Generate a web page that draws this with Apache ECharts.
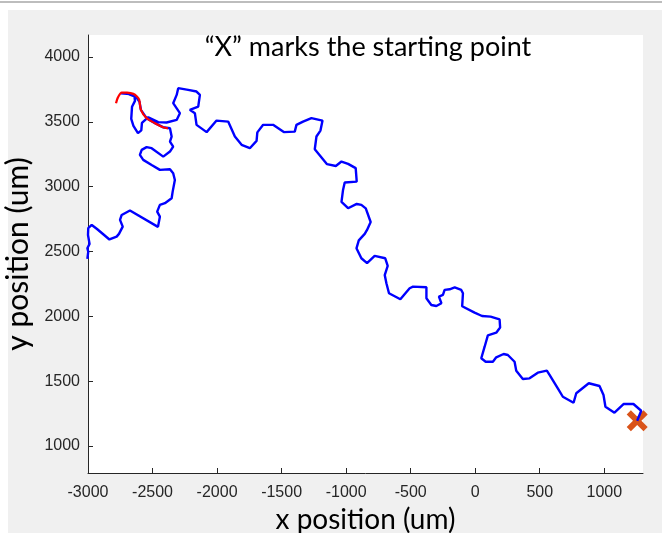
<!DOCTYPE html>
<html>
<head>
<meta charset="utf-8">
<script src="https://cdn.jsdelivr.net/npm/echarts@6/dist/echarts.min.js"></script>
<style>
  html, body { margin: 0; padding: 0; background: #ffffff; }
  #chart { width: 662px; height: 533px; }
</style>
</head>
<body>
<div id="chart"></div>
<script>
// Tracked path (um), in order from the starting point
const pathX = [1255, 1286, 1226, 1149, 1079, 1009, 994, 963, 880, 783, 762, 679, 640, 576, 555, 485, 421, 369, 318, 305, 253, 220, 163, 137, 81, 47, 73, 98, 111, 163, 193, 189, 119, 53, -5, -101, -95, -108, -159, -198, -237, -250, -281, -262, -301, -340, -378, -378, -482, -508, -580, -668, -688, -701, -678, -697, -779, -838, -882, -920, -902, -856, -838, -810, -848, -882, -918, -985, -1036, -1024, -1011, -918, -926, -985, -1036, -1080, -1148, -1243, -1230, -1199, -1183, -1269, -1334, -1385, -1398, -1483, -1566, -1643, -1688, -1694, -1746, -1810, -1862, -1914, -2004, -2081, -2159, -2172, -2211, -2146, -2133, -2159, -2224, -2301, -2313, -2340, -2288, -2313, -2391, -2456, -2533, -2582, -2587, -2613, -2648, -2665, -2659, -2636, -2640, -2690, -2745, -2675, -2628, -2601, -2590, -2546, -2481, -2419, -2365, -2352, -2365, -2340, -2365, -2417, -2507, -2546, -2584, -2598, -2572, -2507, -2443, -2365, -2340, -2327, -2344, -2352, -2404, -2443, -2464, -2443, -2458, -2675, -2739, -2752, -2731, -2760, -2778, -2834, -2930, -2971, -2998, -3000, -2988, -3005, -2998, -3005];
const pathY = [1195, 1272, 1324, 1324, 1257, 1303, 1394, 1463, 1484, 1407, 1334, 1380, 1445, 1548, 1581, 1566, 1522, 1517, 1581, 1650, 1702, 1710, 1684, 1650, 1650, 1677, 1766, 1853, 1864, 1874, 1914, 1976, 1998, 2003, 2029, 2078, 2178, 2204, 2223, 2209, 2204, 2165, 2152, 2101, 2080, 2088, 2140, 2225, 2229, 2217, 2132, 2178, 2255, 2319, 2389, 2448, 2466, 2410, 2448, 2525, 2586, 2636, 2667, 2728, 2833, 2860, 2867, 2834, 2883, 2975, 3032, 3039, 3143, 3176, 3194, 3160, 3174, 3289, 3387, 3433, 3510, 3529, 3502, 3477, 3425, 3421, 3477, 3477, 3419, 3353, 3297, 3323, 3387, 3502, 3510, 3421, 3477, 3567, 3593, 3618, 3708, 3734, 3747, 3760, 3708, 3644, 3567, 3515, 3495, 3498, 3536, 3492, 3434, 3413, 3469, 3523, 3616, 3662, 3697, 3716, 3720, 3714, 3693, 3654, 3593, 3529, 3490, 3459, 3451, 3387, 3348, 3309, 3271, 3232, 3297, 3305, 3284, 3245, 3207, 3168, 3130, 3135, 3104, 3052, 2962, 2911, 2873, 2860, 2808, 2769, 2690, 2816, 2782, 2744, 2692, 2636, 2615, 2593, 2674, 2705, 2680, 2628, 2559, 2525, 2499, 2443];

// Highlighted trail segment
const trailX = [-2783, -2768, -2739, -2698, -2649, -2621, -2603, -2590, -2546, -2481, -2419, -2381];
const trailY = [3644, 3689, 3726, 3725, 3716, 3695, 3670, 3593, 3529, 3490, 3459, 3450];

// Starting point
const startX = [1255];
const startY = [1195];

// Axis ticks
const xTicks = [-3000, -2500, -2000, -1500, -1000, -500, 0, 500, 1000];
const yTicks = [1000, 1500, 2000, 2500, 3000, 3500, 4000];

const pairs = (xs, ys) => xs.map((x, i) => [x, ys[i]]);
const plain = v => String(v);

const axisColor = '#262626';
const labelFont = 'Liberation Sans, Arial, sans-serif';
const textFont = 'Lato, "Open Sans", sans-serif';

const chart = echarts.init(document.getElementById('chart'), null, { renderer: 'canvas' });

chart.setOption({
  animation: false,
  backgroundColor: '#f0f0f0',
  graphic: [
    { type: 'rect', shape: { x: 0, y: 0, width: 662, height: 10 }, style: { fill: '#ffffff' }, silent: true, z: -10 },
    { type: 'rect', shape: { x: 0, y: 0, width: 8, height: 533 }, style: { fill: '#ffffff' }, silent: true, z: -10 },
    { type: 'line', shape: { x1: 0, y1: 2, x2: 662, y2: 2 }, style: { stroke: '#bdbdbd', lineWidth: 2 }, silent: true, z: -9 },
    {
      type: 'text', x: 368, y: 47, z: 100,
      style: {
        text: '\u201CX\u201D marks the starting point',
        font: '27px ' + textFont,
        fill: '#000000',
        align: 'center',
        verticalAlign: 'middle'
      }
    }
  ],
  grid: {
    left: 88, right: 19, top: 35, bottom: 60,
    containLabel: false,
    outerBoundsMode: 'none',
    show: true, backgroundColor: '#ffffff', borderWidth: 0
  },
  xAxis: {
    type: 'value',
    min: -3000, max: 1300,
    name: 'x position (um)',
    nameLocation: 'middle',
    nameGap: 28,
    nameTextStyle: { fontFamily: textFont, fontSize: 28, color: '#000000' },
    axisLine: { show: true, onZero: false, lineStyle: { color: axisColor, width: 1 } },
    axisTick: { show: true, inside: true, length: 5, lineStyle: { color: axisColor }, customValues: xTicks },
    axisLabel: { color: axisColor, fontFamily: labelFont, fontSize: 16, margin: 12, customValues: xTicks, formatter: plain },
    splitLine: { show: false }
  },
  yAxis: {
    type: 'value',
    min: 792, max: 4170,
    name: 'y position (um)',
    nameLocation: 'middle',
    nameGap: 45,
    nameTextStyle: { fontFamily: textFont, fontSize: 30, color: '#000000' },
    axisLine: { show: true, onZero: false, lineStyle: { color: axisColor, width: 1 } },
    axisTick: { show: true, inside: true, length: 5, lineStyle: { color: axisColor }, customValues: yTicks },
    axisLabel: { color: axisColor, fontFamily: labelFont, fontSize: 16, margin: 8, customValues: yTicks, formatter: plain },
    splitLine: { show: false }
  },
  series: [
    {
      name: 'start',
      type: 'scatter',
      data: pairs(startX, startY),
      symbol: 'path://M4,0 L10,6 L16,0 L20,4 L14,10 L20,16 L16,20 L10,14 L4,20 L0,16 L6,10 L0,4 Z',
      symbolSize: 21,
      itemStyle: { color: '#D95319', opacity: 1 },
      clip: false,
      z: 1
    },
    {
      name: 'path',
      type: 'line',
      data: pairs(pathX, pathY),
      showSymbol: false,
      lineStyle: { color: '#0000ff', width: 2.4 },
      clip: true,
      z: 2
    },
    {
      name: 'trail',
      type: 'line',
      data: pairs(trailX, trailY),
      showSymbol: false,
      smooth: 0.3,
      lineStyle: { color: '#ff0000', width: 2.2 },
      z: 3
    }
  ]
});
</script>
</body>
</html>
